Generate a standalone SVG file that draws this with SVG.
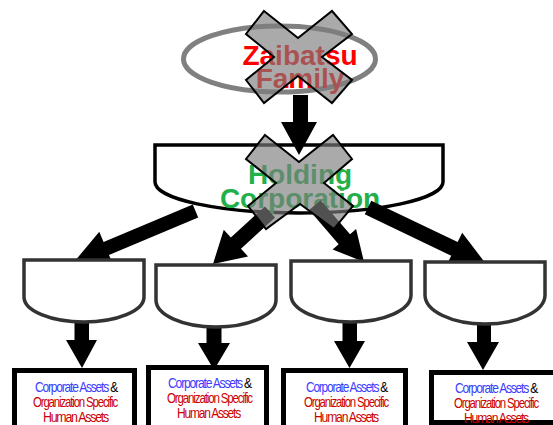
<svg xmlns="http://www.w3.org/2000/svg" width="553" height="425" viewBox="0 0 553 425">
  <style>
    .title { font-family: "Liberation Sans", Arial, sans-serif; font-weight: bold; font-size: 28px; text-anchor: middle; }
    .unit { fill: #ffffff; stroke: #333333; stroke-width: 3.5; }
    .asset { fill: #ffffff; stroke: #000000; stroke-width: 5; }
    .conn { fill: #000000; stroke: none; }
    .label { font-family: "Liberation Sans", Arial, sans-serif; font-size: 15px; text-anchor: middle; letter-spacing: -1.5px; }
    .blue { fill: #3c3cff; }
    .dark { fill: #000000; }
    .red { fill: #cc0000; }
    .cross { fill: #7c7c7c; fill-opacity: 0.65; stroke: #000000; stroke-width: 2; stroke-linejoin: miter; }
  </style>

  <!-- Zaibatsu family -->
  <g id="zaibatsu-family">
    <ellipse cx="279.5" cy="59" rx="96" ry="33" fill="#ffffff" stroke="#808080" stroke-width="5"/>
    <text class="title" x="300" y="65" fill="#ff0000">Zaibatsu</text>
    <text class="title" x="300" y="88" fill="#ff0000">Family</text>
  </g>

  <!-- Holding corporation -->
  <g id="holding-corporation">
    <path d="M155,145 H443 V182 A144,31 0 0 1 155,182 Z" fill="#ffffff" stroke="#000000" stroke-width="3.5"/>
    <text class="title" x="300" y="184" fill="#22b04b">Holding</text>
    <text class="title" x="300" y="208" fill="#22b04b">Corporation</text>
  </g>

  <!-- Connectors -->
  <g id="connectors">
    <polygon class="conn" points="293,95 308,95 308,122 317,122 299,155 281,122 293,122"/>
    <polygon class="conn" points="192.79,204.55 103.56,242 99.3,231.85 74,262 113.24,265.05 108.98,254.9 198.21,217.45"/>
    <polygon class="conn" points="264.94,206.46 230.85,237.56 223.77,229.82 213,264 248.03,256.38 240.95,248.64 275.06,217.54"/>
    <polygon class="conn" points="309.21,210.01 338.66,244.14 332.59,249.38 364,262 356.11,229.08 350.04,234.32 320.59,200.19"/>
    <polygon class="conn" points="364.76,214.27 451.19,255.65 446.65,265.12 486,264 462.21,232.64 457.67,242.11 371.24,200.74"/>
    <polygon class="conn" points="74.5,320 89,320 89,340 97,340 82,368 66,340 74.5,340"/>
    <polygon class="conn" points="206.5,325 221.5,325 221.5,343 230,343 214,370 198,343 206.5,343"/>
    <polygon class="conn" points="342.5,320 357,320 357,341 365,341 349.5,368 334,341 342.5,341"/>
    <polygon class="conn" points="477,322 491,322 491,342 499,342 483,370 467,342 477,342"/>
  </g>

  <!-- Subsidiary units -->
  <g id="unit-1"><path class="unit" d="M24,260 H144 V297 A60,25 0 0 1 24,297 Z"/></g>
  <g id="unit-2"><path class="unit" d="M156,265 H276 V300 A60,27 0 0 1 156,300 Z"/></g>
  <g id="unit-3"><path class="unit" d="M291,261 H411 V295 A60,27 0 0 1 291,295 Z"/></g>
  <g id="unit-4"><path class="unit" d="M425,262 H545 V295 A60,29 0 0 1 425,295 Z"/></g>

  <!-- Asset boxes -->
  <g id="assets-1">
    <rect class="asset" x="14.5" y="370.5" width="120" height="70"/>
    <text class="label" x="76" y="392" textLength="82" lengthAdjust="spacingAndGlyphs"><tspan class="blue">Corporate Assets </tspan><tspan class="dark">&amp;</tspan></text>
    <text class="label red" x="75" y="407" textLength="84" lengthAdjust="spacingAndGlyphs">Organization Specific</text>
    <text class="label red" x="75.5" y="422" textLength="65" lengthAdjust="spacingAndGlyphs">Human Assets</text>
  </g>
  <g id="assets-2">
    <rect class="asset" x="148.5" y="367.5" width="118" height="70"/>
    <text class="label" x="209.5" y="388" textLength="83" lengthAdjust="spacingAndGlyphs"><tspan class="blue">Corporate Assets </tspan><tspan class="dark">&amp;</tspan></text>
    <text class="label red" x="209.5" y="403" textLength="85" lengthAdjust="spacingAndGlyphs">Organization Specific</text>
    <text class="label red" x="208.5" y="418" textLength="63" lengthAdjust="spacingAndGlyphs">Human Assets</text>
  </g>
  <g id="assets-3">
    <rect class="asset" x="283.5" y="370.5" width="122" height="70"/>
    <text class="label" x="346.5" y="392" textLength="81" lengthAdjust="spacingAndGlyphs"><tspan class="blue">Corporate Assets </tspan><tspan class="dark">&amp;</tspan></text>
    <text class="label red" x="346" y="407" textLength="84" lengthAdjust="spacingAndGlyphs">Organization Specific</text>
    <text class="label red" x="346" y="422" textLength="64" lengthAdjust="spacingAndGlyphs">Human Assets</text>
  </g>
  <g id="assets-4">
    <rect class="asset" x="431.5" y="372.5" width="126" height="50"/>
    <text class="label" x="496" y="393" textLength="82" lengthAdjust="spacingAndGlyphs"><tspan class="blue">Corporate Assets </tspan><tspan class="dark">&amp;</tspan></text>
    <text class="label red" x="496" y="408" textLength="84" lengthAdjust="spacingAndGlyphs">Organization Specific</text>
    <text class="label red" x="496" y="423" textLength="64" lengthAdjust="spacingAndGlyphs">Human Assets</text>
  </g>

  <!-- Cross-out marks -->
  <g id="cross-family">
    <polygon class="cross" points="264,11 298,38 332,11 352,34 322,57 352,80 332,103 298,76 264,103 246,80 274,57 246,34"/>
  </g>
  <g id="cross-holding">
    <polygon class="cross" points="265,135 299,162 333,135 352,159 324,183 353,206 334,229 300,204 266,229 248,206 276,183 246,159"/>
  </g>
</svg>
